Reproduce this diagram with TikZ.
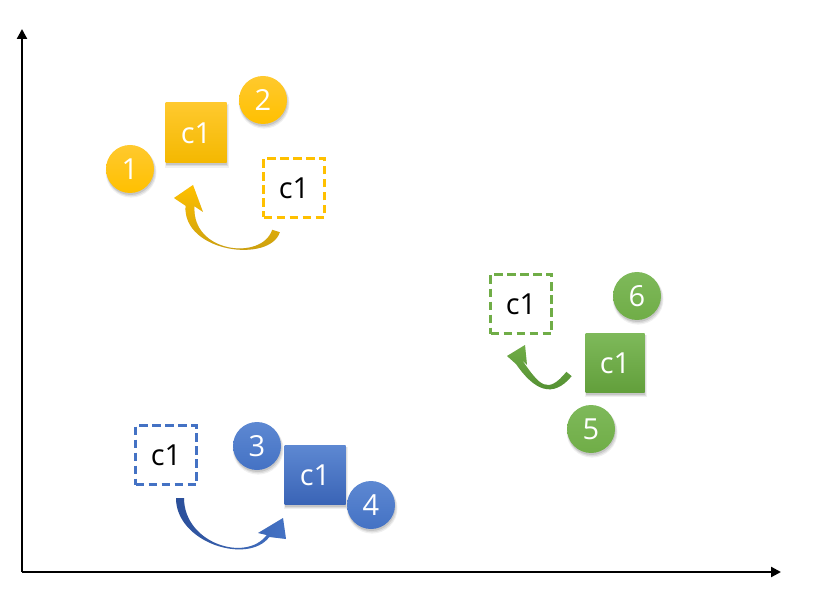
\documentclass[tikz,border=0pt]{standalone}
\usepackage{fontspec}
\setmainfont{Open Sans}
\usetikzlibrary{arrows.meta,calc,shadows}

\definecolor{gold}{HTML}{FFC000}
\definecolor{goldtop}{HTML}{FFC92E}
\definecolor{goldbot}{HTML}{F4B800}
\definecolor{golddark}{HTML}{C29A12}
\definecolor{blu}{HTML}{4472C4}
\definecolor{blutop}{HTML}{5D88D2}
\definecolor{blubot}{HTML}{3A64B6}
\definecolor{bludark}{HTML}{2B4F9A}
\definecolor{grn}{HTML}{70AD47}
\definecolor{grntop}{HTML}{7EB95A}
\definecolor{grnbot}{HTML}{629F3B}
\definecolor{grndark}{HTML}{4E8A2E}

% outline of a bent, tapering arrow: centre line #1A..#1D (Bezier),
% head #1L--#1T--#1R, half widths #2 (tail) and #3 (head end)
\newcommand\bentarrowpath[3]{%
  ($(#1A)!#2!90:(#1B)$) .. controls ($(#1B)!#2!-90:(#1A)$) and ($(#1C)!#3!90:(#1D)$) ..
  ($(#1D)!#3!-90:(#1C)$) -- (#1L) -- (#1T) -- (#1R) -- ($(#1D)!#3!90:(#1C)$)
  .. controls ($(#1C)!#3!-90:(#1D)$) and ($(#1B)!#2!90:(#1A)$) ..
  ($(#1A)!#2!-90:(#1B)$) -- cycle}
\newcommand\bentarrow[4]{%
  \fill[black, opacity=0.10, xshift=1pt, yshift=-2pt] \bentarrowpath{#1}{#2}{#3};
  \shade[#4] \bentarrowpath{#1}{#2}{#3};}

\tikzset{
  softshadow/.style={
    general shadow={fill=black, opacity=0.06, shadow xshift=1pt, shadow yshift=-3pt, shadow scale=1.06},
    general shadow={fill=black, opacity=0.08, shadow xshift=1pt, shadow yshift=-2.5pt, shadow scale=1.03},
    general shadow={fill=black, opacity=0.10, shadow xshift=0.5pt, shadow yshift=-2pt}},
  label font/.style={font=\fontsize{29}{34}\selectfont},
  cbox/.style={rectangle, minimum width=61pt, minimum height=60pt, inner sep=0pt,
    label font, text=white, softshadow},
  ghost/.style={rectangle, minimum width=61pt, minimum height=59pt, inner sep=0pt,
    label font, text=black, draw=#1, fill=white, line width=2.1pt,
    dash pattern=on 8.5pt off 4.5pt},
  badge/.style={circle, minimum size=48pt, inner sep=0pt, label font, text=white, softshadow},
  axis/.style={line width=2.2pt, -{Triangle[length=10pt, width=10pt]}},
}

\begin{document}
\begin{tikzpicture}[x=1pt, y=-1pt]
\useasboundingbox (0,0) rectangle (818,609);

% axes
\coordinate (origin) at (22,572);
\coordinate (ytop) at (22,29);
\coordinate (xend) at (781,572);
\draw[axis] (origin) -- (ytop);
\draw[axis] (origin) -- (xend);

% ---- gold group ----
\node[ghost=gold] (ghostY) at (294,188) {c1};
\node[cbox, top color=goldtop, bottom color=goldbot] (sqY) at (196,133) {c1};
\node[badge, top color=goldtop, bottom color=gold] (n1) at (130,169) {1};
\node[badge, top color=goldtop, bottom color=gold] (n2) at (263,100) {2};
\coordinate (yA) at (276,231);
\coordinate (yB) at (266,262);
\coordinate (yC) at (187,253);
\coordinate (yD) at (190,206);
\coordinate (yL) at (174,198);
\coordinate (yT) at (193,185);
\coordinate (yR) at (203,212);
\bentarrow{y}{4pt}{4.5pt}{top color=gold, bottom color=golddark}

% ---- green group ----
\node[ghost=grn] (ghostG) at (521,304) {c1};
\node[cbox, minimum width=59pt, minimum height=59pt, top color=grntop, bottom color=grnbot] (sqG) at (615,363) {c1};
\node[badge, top color=grntop, bottom color=grn] (n6) at (637,296) {6};
\node[badge, top color=grntop, bottom color=grn] (n5) at (591,429) {5};
\coordinate (gA) at (569,374);
\coordinate (gB) at (550,397);
\coordinate (gC) at (537,388);
\coordinate (gD) at (519,362);
\coordinate (gL) at (507,356);
\coordinate (gT) at (525,345);
\coordinate (gR) at (527,365);
\bentarrow{g}{3.4pt}{3.6pt}{top color=grn, bottom color=grndark}

% ---- blue group ----
\node[ghost=blu] (ghostB) at (166,455) {c1};
\node[cbox, minimum height=59pt, top color=blutop, bottom color=blubot] (sqB) at (315,475) {c1};
\node[badge, top color=blutop, bottom color=blu] (n3) at (257,446) {3};
\node[badge, top color=blutop, bottom color=blu] (n4) at (371,505) {4};
\coordinate (bA) at (180,498);
\coordinate (bB) at (180,543);
\coordinate (bC) at (247,564);
\coordinate (bD) at (268,536);
\coordinate (bL) at (258,533);
\coordinate (bT) at (283,518);
\coordinate (bR) at (286,539);
\bentarrow{b}{4pt}{1.6pt}{left color=bludark, middle color=blu!15!white, right color=blu}

\end{tikzpicture}
\end{document}
